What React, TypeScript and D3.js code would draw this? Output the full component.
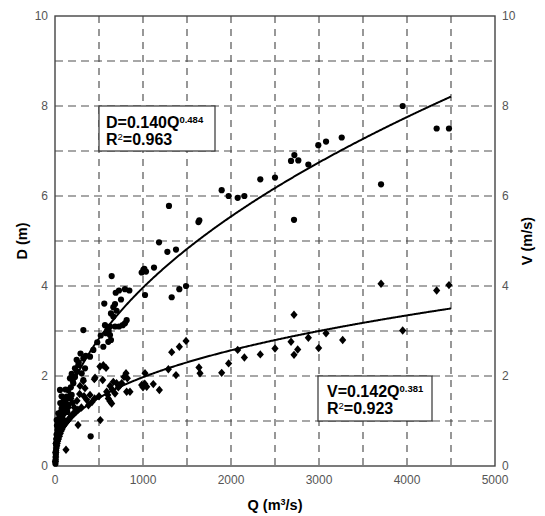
import React from "react";
import * as d3 from "d3";

// Depth data (Q m3/s, D m)
const depthPoints: [number, number][] = [
  [3951, 8.0], [4337, 7.5], [4477, 7.5], [3258, 7.3], [3080, 7.21], [2992, 7.13], [2879, 6.7],
  [2682, 6.78], [2720, 6.91], [2765, 6.79], [2500, 6.41], [2333, 6.37], [2152, 6.0], [2076, 5.96],
  [1973, 6.0], [1894, 6.13], [1640, 5.46], [1630, 5.42], [2716, 5.47], [3705, 6.26],
  [1295, 5.78], [1182, 4.97], [1277, 4.76], [1375, 4.81], [1125, 4.41], [1004, 4.36], [985, 4.3],
  [1034, 4.32], [1015, 4.38], [1023, 3.8], [1326, 3.75], [1413, 3.93], [1489, 4.0], [644, 4.22],
  [727, 3.9], [795, 3.93], [845, 3.9], [560, 3.61], [682, 3.6], [663, 3.53], [636, 3.39], [663, 3.32],
  [814, 3.24], [795, 3.17], [769, 3.13], [568, 3.13], [625, 3.1], [682, 3.1], [727, 3.1], [322, 3.02],
  [595, 3.02], [580, 2.95], [625, 2.91], [636, 2.8], [606, 2.76], [549, 2.65], [436, 2.58], [398, 2.43],
  [322, 2.39], [246, 2.36], [265, 2.24], [227, 2.17], [341, 2.17], [303, 2.06], [227, 1.98], [322, 1.91],
  [208, 1.84], [57, 1.69], [151, 1.69], [189, 1.58], [133, 1.54], [95, 1.43], [151, 1.36], [76, 1.28],
  [38, 1.17], [57, 1.1], [19, 1.02], [405, 0.66], [270, 2.3], [250, 2.1], [180, 1.75], [200, 1.9],
  [120, 1.4], [110, 1.3], [100, 1.25], [90, 1.2], [80, 1.12], [70, 1.05], [60, 1.0], [50, 0.95],
  [45, 0.9], [40, 0.85], [35, 0.78], [30, 0.7], [25, 0.62], [20, 0.55], [15, 0.45], [12, 0.35],
  [10, 0.25], [8, 0.15], [5, 0.05], [28, 0.8], [18, 0.7], [22, 0.9], [40, 1.05], [65, 1.2],
  [85, 1.35], [105, 1.5], [160, 1.5], [140, 1.2], [30, 1.0], [15, 0.6], [10, 0.5], [6, 0.3],
  [3, 0.1], [50, 0.8], [120, 1.7], [170, 1.95], [190, 2.05], [290, 2.5], [350, 2.45], [480, 2.75],
  [520, 2.9], [610, 3.0], [700, 3.45], [750, 3.7], [690, 3.85], [60, 1.4], [75, 1.55],
];

// Velocity data (Q m3/s, V m/s)
const velocityPoints: [number, number][] = [
  [4477, 4.02], [4337, 3.9], [3705, 4.05], [2716, 3.36], [3951, 3.01], [3269, 2.8], [3080, 2.95],
  [2996, 2.62], [2879, 2.85], [2758, 2.59], [2716, 2.47], [2682, 2.76], [2500, 2.61], [2333, 2.48],
  [2152, 2.41], [2076, 2.58], [1973, 2.28], [1894, 2.07], [1636, 2.19], [1648, 2.06], [1489, 2.78],
  [1413, 2.65], [1326, 2.53], [1288, 2.15], [1375, 2.02], [1023, 2.06], [1011, 1.8], [985, 1.8],
  [1042, 1.76], [1000, 1.75], [1020, 1.83], [1117, 1.82], [1186, 1.69],
  [511, 2.21], [549, 2.24], [447, 1.93], [542, 1.91], [322, 1.89], [284, 1.78], [341, 1.73],
  [398, 1.58], [360, 1.47], [625, 1.78], [663, 1.87], [700, 1.84], [807, 2.06], [784, 1.98],
  [822, 1.95], [758, 1.84], [814, 1.65], [852, 1.65], [606, 1.5], [625, 1.44], [644, 1.39],
  [587, 1.65], [682, 1.61], [720, 1.75], [740, 1.8], [515, 1.02], [262, 0.91], [125, 0.36],
  [455, 1.96], [580, 2.18], [650, 1.7], [600, 1.58], [500, 1.55], [450, 1.5], [420, 1.42],
  [300, 1.3], [260, 1.25], [230, 1.2], [200, 1.15], [180, 1.1], [160, 1.05], [140, 1.0],
  [120, 0.95], [100, 0.9], [80, 0.82], [70, 0.78], [60, 0.72], [50, 0.66], [40, 0.6], [30, 0.55],
  [25, 0.5], [20, 0.45], [15, 0.4], [10, 0.3], [8, 0.2], [5, 0.1], [150, 1.3], [200, 1.4],
  [250, 1.45], [100, 1.15], [180, 1.5], [90, 1.05], [35, 0.7], [45, 0.8], [12, 0.5], [20, 0.6],
  [380, 1.35], [330, 1.55], [280, 1.6], [220, 1.3],
];

const depthCoef = 0.14;
const depthExp = 0.484;
const velCoef = 0.142;
const velExp = 0.381;
const fitQ = d3.range(0, 4501, 10);

const xTicks = [0, 1000, 2000, 3000, 4000, 5000];
const yTicks = [0, 2, 4, 6, 8, 10];
const xGrid = [500, 1000, 1500, 2000, 2500, 3000, 3500, 4000, 4500];
const yGrid = [1, 2, 3, 4, 5, 6, 7, 8, 9];

const W = 545;
const H = 516;
const L = 55, R = 495, T = 16, B = 466;

export default function App() {
  const x = d3.scaleLinear().domain([0, 5000]).range([L, R]);
  const y = d3.scaleLinear().domain([0, 10]).range([B, T]);
  const dPath = d3.line<number>().x((q) => x(q)).y((q) => y(depthCoef * Math.pow(q, depthExp)))(fitQ);
  const vPath = d3.line<number>().x((q) => x(q)).y((q) => y(velCoef * Math.pow(q, velExp)))(fitQ);
  const font = "Arial, 'Liberation Sans', sans-serif";

  return (
    <svg width={W} height={H} style={{ position: "absolute", left: 0, top: 0, background: "#fff" }} fontFamily={font}>
      <rect x={0} y={0} width={W} height={H} fill="#fff" />
      {/* grid */}
      {yGrid.map((g) => (
        <line key={"h" + g} x1={L} x2={R} y1={y(g)} y2={y(g)} stroke="#8a8a8a" strokeWidth={1.6} strokeDasharray="8,5" />
      ))}
      {xGrid.map((g) => (
        <line key={"v" + g} x1={x(g)} x2={x(g)} y1={T} y2={B} stroke="#444" strokeWidth={1.1} strokeDasharray="7,6" />
      ))}
      {/* frame */}
      <rect x={L} y={T} width={R - L} height={B - T} fill="none" stroke="#444" strokeWidth={1.4} />
      {/* tick labels */}
      {yTicks.map((t) => (
        <text key={"yl" + t} x={L - 7} y={y(t)} dy="0.36em" textAnchor="end" fontSize={12} fill="#555">{t}</text>
      ))}
      {yTicks.map((t) => (
        <text key={"yr" + t} x={R + 7} y={y(t)} dy="0.36em" textAnchor="start" fontSize={12} fill="#555">{t}</text>
      ))}
      {xTicks.map((t) => (
        <text key={"xt" + t} x={x(t)} y={B + 18} textAnchor="middle" fontSize={12} fill="#555">{t}</text>
      ))}
      {/* axis titles */}
      <text transform={`translate(27,${(T + B) / 2}) rotate(-90)`} textAnchor="middle" fontSize={14.5} fontWeight="bold" fill="#000">D (m)</text>
      <text transform={`translate(532,${(T + B) / 2}) rotate(-90)`} textAnchor="middle" fontSize={14.5} fontWeight="bold" fill="#000">V (m/s)</text>
      <text x={(L + R) / 2} y={510} textAnchor="middle" fontSize={14.5} fontWeight="bold" fill="#000">
        Q (m<tspan dy="-5" fontSize={9}>3</tspan><tspan dy="5">/s)</tspan>
      </text>
      {/* points */}
      {depthPoints.map(([q, d], i) => (
        <circle key={"d" + i} cx={x(q)} cy={y(d)} r={3.1} fill="#000" />
      ))}
      {velocityPoints.map(([q, v], i) => {
        const cx = x(q), cy = y(v);
        return <path key={"v" + i} d={`M${cx},${cy - 4.2}L${cx + 3.6},${cy}L${cx},${cy + 4.2}L${cx - 3.6},${cy}Z`} fill="#000" />;
      })}
      {/* fit curves */}
      <path d={dPath || ""} fill="none" stroke="#000" strokeWidth={2} />
      <path d={vPath || ""} fill="none" stroke="#000" strokeWidth={2} />
      {/* equation boxes */}
      <rect x={x(500)} y={y(8)} width={116} height={y(7) - y(8)} fill="#fff" stroke="#333" strokeWidth={1.2} />
      <text x={x(500) + 7} y={y(8) + 22} fontSize={16} fontWeight="bold" fill="#000">
        D=0.140Q<tspan dy="-5.5" fontSize={9.5}>0.484</tspan>
      </text>
      <text x={x(500) + 7} y={y(8) + 39} fontSize={16} fontWeight="bold" fill="#000">
        R<tspan dy="-5" fontSize={9.5} fontWeight="normal">2</tspan><tspan dy="5">=0.963</tspan>
      </text>
      <rect x={318} y={y(2)} width={114} height={y(1) - y(2)} fill="#fff" stroke="#333" strokeWidth={1.2} />
      <text x={327} y={y(2) + 21} fontSize={16} fontWeight="bold" fill="#000">
        V=0.142Q<tspan dy="-5.5" fontSize={9.5}>0.381</tspan>
      </text>
      <text x={327} y={y(2) + 38} fontSize={16} fontWeight="bold" fill="#000">
        R<tspan dy="-5" fontSize={9.5} fontWeight="normal">2</tspan><tspan dy="5">=0.923</tspan>
      </text>
    </svg>
  );
}
